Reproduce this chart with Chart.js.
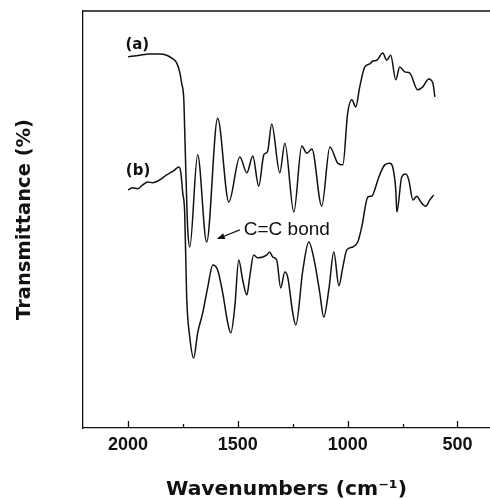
<!DOCTYPE html>
<html>
<head>
<meta charset="utf-8">
<script src="https://cdn.jsdelivr.net/npm/chart.js@4.4.1/dist/chart.umd.min.js"></script>
<style>
    html, body { margin: 0; padding: 0; background: #ffffff; }
    #wrap { width: 490px; height: 499px; }
</style>
</head>
<body>
<div id="wrap"><canvas id="irChart" width="490" height="499"></canvas></div>
<script>

/* ==========================================
   Spectrum data (wavenumber, transmittance)
========================================== */

const waveA = [2000, 1947, 1901, 1856, 1824, 1801, 1778, 1765, 1756, 1746, 1742, 1737, 1733, 1728, 1719,
    1683, 1642, 1592, 1541, 1491, 1459, 1432, 1405, 1382, 1373, 1364, 1346, 1309, 1286, 1245,
    1209, 1186, 1163, 1118, 1081, 1045, 1022, 1000, 981, 963, 945, 922, 899, 886, 867, 840,
    822, 804, 781, 763, 740, 717, 681, 658, 631, 612, 603];

const transA = [89.0, 89.4, 89.7, 89.7, 89.4, 88.7, 87.5, 85.4, 82.7, 78.7, 71.5, 61.9, 54.7, 47.5, 43.4,
    65.5, 44.6, 74.3, 54.2, 65.0, 61.2, 65.2, 58.0, 65.5, 65.9, 66.4, 72.9, 61.2, 68.3, 51.8,
    67.6, 65.9, 66.9, 53.2, 67.4, 63.5, 63.1, 75.5, 78.7, 77.0, 81.8, 86.6, 87.3, 88.0, 88.2, 89.9,
    88.2, 89.4, 83.5, 86.6, 85.4, 85.1, 81.1, 81.8, 83.7, 82.7, 79.4];

const waveB = [2000, 1979, 1956, 1933, 1910, 1888, 1856, 1824, 1801, 1787, 1769, 1760, 1751, 1742, 1733,
    1719, 1701, 1683, 1660, 1637, 1614, 1592, 1569, 1546, 1532, 1514, 1496, 1478, 1459, 1446,
    1428, 1409, 1387, 1368, 1355, 1341, 1323, 1305, 1286, 1273, 1250, 1236, 1204, 1177, 1150,
    1127, 1109, 1086, 1063, 1040, 1022, 1004, 977, 954, 936, 908, 890, 877, 858, 831, 808,
    795, 781, 776, 754, 735, 722, 703, 685, 667, 644, 626, 608];

const transB = [57.1, 57.6, 57.4, 58.3, 59.0, 58.8, 59.5, 60.7, 61.4, 61.9, 62.6, 61.4, 56.4, 51.6, 31.4,
    21.8, 16.8, 22.8, 27.6, 33.8, 39.1, 37.9, 32.4, 25.2, 22.8, 29.0, 40.3, 35.5, 31.9, 36.2,
    41.5, 40.8, 41.0, 41.5, 42.2, 41.0, 40.3, 33.6, 37.4, 36.2, 27.6, 24.7, 37.9, 44.6, 39.6,
    32.4, 26.6, 33.1, 42.2, 34.1, 38.6, 42.7, 43.4, 44.6, 48.2, 55.4, 55.6, 57.1, 60.2, 63.1, 63.5,
    62.6, 57.1, 51.8, 60.2, 60.9, 59.5, 54.7, 55.6, 54.2, 53.2, 54.7, 55.9];

const majorTicks = [2000, 1500, 1000, 500];
const minorTicks = [1750, 1250, 750];

document.addEventListener('DOMContentLoaded', function () {

    const INK = '#111111';
    const SANS = "'Liberation Sans', Arial, sans-serif";
    const WIDE = "'DejaVu Sans', sans-serif";

    function toPoints(xs, ys) {
        return xs.map(function (x, i) {
            return { x: x, y: ys[i] };
        });
    }

    /* ==========================================
       Frame top edge + inward tick marks
    ========================================== */

    const frameTicks = {
        id: 'frameTicks',
        afterDraw: function (chart) {
            const ctx = chart.ctx;
            const area = chart.chartArea;
            const xScale = chart.scales.x;

            ctx.save();
            ctx.strokeStyle = INK;
            ctx.lineWidth = 1.3;
            ctx.beginPath();
            ctx.moveTo(area.left, area.top);
            ctx.lineTo(area.right, area.top);

            majorTicks.forEach(function (v) {
                const px = Math.round(xScale.getPixelForValue(v)) + 0.5;
                ctx.moveTo(px, area.bottom);
                ctx.lineTo(px, area.bottom - 7);
            });
            minorTicks.forEach(function (v) {
                const px = Math.round(xScale.getPixelForValue(v)) + 0.5;
                ctx.moveTo(px, area.bottom);
                ctx.lineTo(px, area.bottom - 4);
            });
            ctx.stroke();
            ctx.restore();
        }
    };

    /* ==========================================
       Curve labels and C=C annotation
    ========================================== */

    const annotations = {
        id: 'annotations',
        afterDatasetsDraw: function (chart) {
            const ctx = chart.ctx;
            const xs = chart.scales.x;
            const ys = chart.scales.y;

            ctx.save();
            ctx.fillStyle = INK;
            ctx.strokeStyle = INK;
            ctx.textBaseline = 'middle';
            ctx.textAlign = 'left';

            ctx.font = 'bold 15px ' + WIDE;
            ctx.fillText('(a)', xs.getPixelForValue(2012), ys.getPixelForValue(91.8));
            ctx.fillText('(b)', xs.getPixelForValue(2010), ys.getPixelForValue(61.6));

            ctx.font = '19px ' + SANS;
            ctx.fillText('C=C bond', xs.getPixelForValue(1473), ys.getPixelForValue(47.5));

            // arrow pointing at the 1640 band of curve (a)
            const x0 = xs.getPixelForValue(1491);
            const y0 = ys.getPixelForValue(47.5);
            const x1 = xs.getPixelForValue(1596);
            const y1 = ys.getPixelForValue(45.3);
            const ang = Math.atan2(y1 - y0, x1 - x0);

            ctx.lineWidth = 1.2;
            ctx.beginPath();
            ctx.moveTo(x0, y0);
            ctx.lineTo(x1 - 5 * Math.cos(ang), y1 - 5 * Math.sin(ang));
            ctx.stroke();

            ctx.beginPath();
            ctx.moveTo(x1, y1);
            ctx.lineTo(x1 - 8 * Math.cos(ang) + 3 * Math.sin(ang), y1 - 8 * Math.sin(ang) - 3 * Math.cos(ang));
            ctx.lineTo(x1 - 8 * Math.cos(ang) - 3 * Math.sin(ang), y1 - 8 * Math.sin(ang) + 3 * Math.cos(ang));
            ctx.closePath();
            ctx.fill();

            ctx.restore();
        }
    };

    const lineStyle = {
        borderColor: INK,
        borderWidth: 1.5,
        pointRadius: 0,
        fill: false,
        cubicInterpolationMode: 'monotone'
    };

    new Chart(document.getElementById('irChart'), {

        type: 'line',

        data: {
            datasets: [
                Object.assign({ label: '(a)', data: toPoints(waveA, transA) }, lineStyle),
                Object.assign({ label: '(b)', data: toPoints(waveB, transB) }, lineStyle)
            ]
        },

        options: {
            responsive: false,
            animation: false,
            devicePixelRatio: 1,
            layout: {
                padding: { left: 0, right: 0, top: 11, bottom: 0 }
            },
            plugins: {
                legend: { display: false },
                tooltip: { enabled: false }
            },
            scales: {
                x: {
                    type: 'linear',
                    reverse: true,
                    min: 352,
                    max: 2205,
                    afterBuildTicks: function (scale) {
                        scale.ticks = majorTicks.map(function (v) {
                            return { value: v };
                        });
                    },
                    afterFit: function (scale) {
                        scale.height = 71;
                    },
                    grid: { display: false, drawTicks: false },
                    border: { display: true, color: INK, width: 1.3 },
                    ticks: {
                        color: INK,
                        padding: 6,
                        maxRotation: 0,
                        font: { family: SANS, size: 18, weight: 'bold' },
                        callback: function (value) {
                            return String(value);
                        }
                    },
                    title: {
                        display: true,
                        text: 'Wavenumbers (cm\u207B\u00B9)',
                        color: INK,
                        padding: { top: 0, bottom: -3 },
                        font: { family: WIDE, size: 20.3, weight: 'bold' }
                    }
                },
                y: {
                    min: 0,
                    max: 100,
                    afterFit: function (scale) {
                        scale.width = 83;
                    },
                    grid: { display: false, drawTicks: false },
                    border: { display: true, color: INK, width: 1.3 },
                    ticks: { display: false },
                    title: {
                        display: true,
                        text: 'Transmittance (%)',
                        color: INK,
                        padding: { top: 13, bottom: 0 },
                        font: { family: WIDE, size: 19.5, weight: 'bold' }
                    }
                }
            }
        },

        plugins: [frameTicks, annotations]

    });

});
</script>
</body>
</html>
